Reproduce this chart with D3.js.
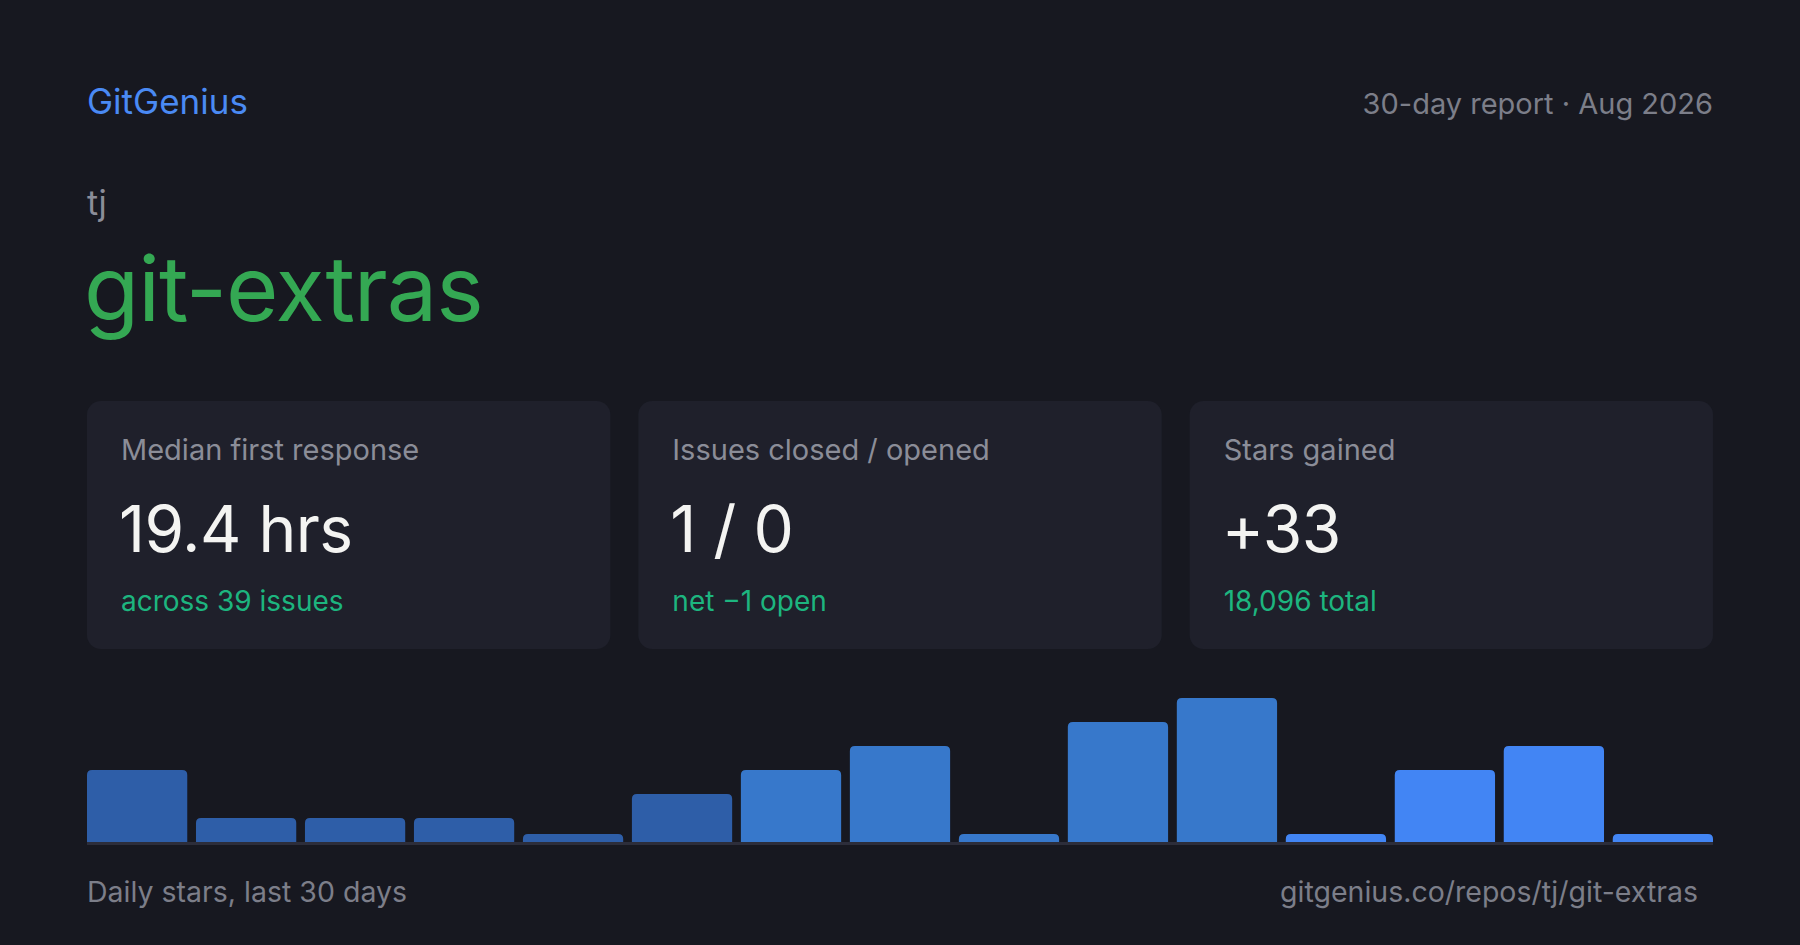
<!DOCTYPE html>
<html>
<head>
<meta charset="utf-8">
<script src="https://cdn.jsdelivr.net/npm/d3@7"></script>
<style>
  html, body { margin: 0; padding: 0; background: #171820; }
  svg { display: block; font-family: Inter, "Noto Sans", sans-serif; }
</style>
</head>
<body>
<div id="chart"></div>
<script>
// page size
const width = 1800;
const height = 945;
const padX = 87;

// header texts
const brand = "GitGenius";
const reportLabel = "30-day report · Aug 2026";
const owner = "tj";
const repo = "git-extras";

// stat cards
const cardTitles = ["Median first response", "Issues closed / opened", "Stars gained"];
const cardValues = ["19.4 hrs", "1 / 0", "+33"];
const cardNotes = ["across 39 issues", "net −1 open", "18,096 total"];

// daily stars (bars)
const days = [1, 2, 3, 4, 5, 6, 7, 8, 9, 10, 11, 12, 13, 14, 15];
const stars = [3, 1, 1, 1, 0, 2, 3, 4, 0, 5, 6, 0, 3, 4, 0];

// footer texts
const footLeft = "Daily stars, last 30 days";
const footRight = "gitgenius.co/repos/tj/git-extras";

const svg = d3
  .select("#chart")
  .append("svg")
  .attr("width", width)
  .attr("height", height);

svg.append("rect").attr("width", width).attr("height", height).attr("fill", "#171820");

// header
svg.append("text")
  .attr("x", padX).attr("y", 114)
  .attr("font-size", 35).attr("fill", "#4a8af4")
  .text(brand);

svg.append("text")
  .attr("x", width - padX).attr("y", 114)
  .attr("text-anchor", "end")
  .attr("font-size", 29).attr("fill", "#7c7e89")
  .text(reportLabel);

svg.append("text")
  .attr("x", padX).attr("y", 215)
  .attr("font-size", 34).attr("fill", "#8b8d98")
  .text(owner);

svg.append("text")
  .attr("x", padX - 3).attr("y", 321)
  .attr("font-size", 90).attr("fill", "#34a853")
  .attr("letter-spacing", -1)
  .text(repo);

// cards
const cardX = d3.scaleBand()
  .domain(cardTitles)
  .range([padX, width - padX])
  .paddingInner(0.0508);

const cards = svg.selectAll("g.card")
  .data(cardTitles.map((t, i) => ({ title: t, value: cardValues[i], note: cardNotes[i] })))
  .enter()
  .append("g")
  .attr("class", "card")
  .attr("transform", (d) => `translate(${cardX(d.title)},401)`);

cards.append("rect")
  .attr("width", cardX.bandwidth())
  .attr("height", 248)
  .attr("rx", 14)
  .attr("fill", "#1f202b");

cards.append("text")
  .attr("x", 34).attr("y", 59)
  .attr("font-size", 29).attr("fill", "#8b8d98")
  .text((d) => d.title);

cards.append("text")
  .attr("x", 32).attr("y", 151)
  .attr("font-size", 64).attr("fill", "#f4f4f2")
  .attr("letter-spacing", -0.5)
  .text((d) => d.value);

cards.append("text")
  .attr("x", 34).attr("y", 210)
  .attr("font-size", 28).attr("fill", "#1db57f")
  .text((d) => d.note);

// bar chart
const x = d3.scaleBand()
  .domain(days)
  .range([padX, width - padX])
  .paddingInner(0.08);

const y = d3.scaleLinear()
  .domain([0, d3.max(stars)])
  .range([842, 698]);

const barColor = d3.scaleThreshold()
  .domain([6, 11])
  .range(["#2e5ea8", "#3778cb", "#4285f4"]);

// bar with rounded top corners only
function topRounded(x0, y0, w, h, r) {
  r = Math.min(r, h, w / 2);
  return `M${x0},${y0 + h}V${y0 + r}Q${x0},${y0} ${x0 + r},${y0}` +
    `H${x0 + w - r}Q${x0 + w},${y0} ${x0 + w},${y0 + r}V${y0 + h}Z`;
}

svg.selectAll("path.bar")
  .data(days)
  .enter()
  .append("path")
  .attr("class", "bar")
  .attr("fill", (d, i) => barColor(i))
  .attr("d", (d, i) => {
    const top = Math.min(y(stars[i]), y(0) - 8);
    return topRounded(x(d), top, x.bandwidth(), y(0) - top, 5);
  });

svg.append("rect")
  .attr("x", padX).attr("y", 842)
  .attr("width", width - 2 * padX).attr("height", 3)
  .attr("fill", "#2c2d3a");

// footer
svg.append("text")
  .attr("x", padX).attr("y", 902)
  .attr("font-size", 28.5).attr("fill", "#7c7e89")
  .text(footLeft);

svg.append("text")
  .attr("x", 1698).attr("y", 902)
  .attr("text-anchor", "end")
  .attr("font-size", 28.5).attr("fill", "#7c7e89")
  .text(footRight);
</script>
</body>
</html>
